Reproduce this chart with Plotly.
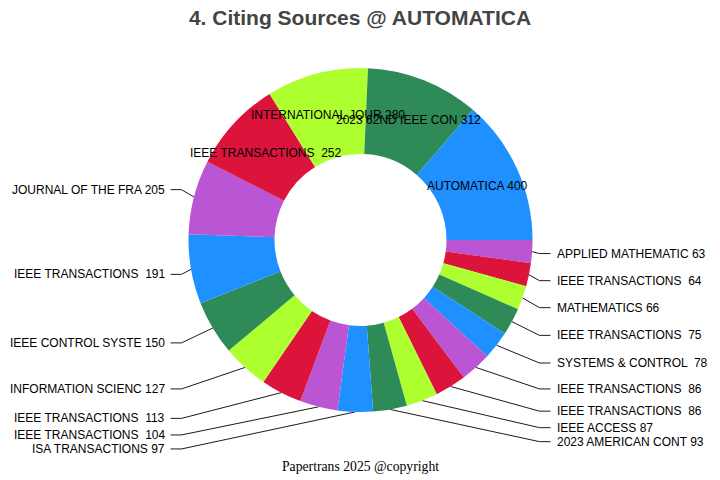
import math
import plotly.graph_objects as go

# sources in clockwise order starting at 3 o'clock (smallest first)
sources = ['APPLIED MATHEMATIC', 'IEEE TRANSACTIONS ', 'MATHEMATICS', 'IEEE TRANSACTIONS ',
           'SYSTEMS & CONTROL ', 'IEEE TRANSACTIONS ', 'IEEE TRANSACTIONS ', 'IEEE ACCESS',
           '2023 AMERICAN CONT', 'ISA TRANSACTIONS', 'IEEE TRANSACTIONS ', 'IEEE TRANSACTIONS ',
           'INFORMATION SCIENC', 'IEEE CONTROL SYSTE', 'IEEE TRANSACTIONS ', 'JOURNAL OF THE FRA',
           'IEEE TRANSACTIONS ', 'INTERNATIONAL JOUR', '2023 62ND IEEE CON', 'AUTOMATICA']
counts = [63, 64, 66, 75, 78, 86, 86, 87, 93, 97, 104, 113, 127, 150, 191, 205, 252, 280, 312, 400]

palette = ['#BA55D3', '#DC143C', '#ADFF2F', '#2E8B57', '#1E90FF']
colors = [palette[i % 5] for i in range(len(counts))]

texts = [f'{s} {c}' for s, c in zip(sources, counts)]
ids = [str(i) for i in range(len(counts))]
inside = [c > 250 for c in counts]

W, H = 720, 480
CX, CY, R = 360.5, 240, 172      # pie centre / radius in px
ROT = 90
HOLE = 0.5
FONT = dict(family='Arial, Liberation Sans', size=12, color='black')

fig = go.Figure(go.Pie(
    labels=ids, values=counts, text=texts, textinfo='none',
    sort=False, direction='clockwise', rotation=ROT,
    hole=HOLE,
    marker=dict(colors=colors),
    hoverinfo='text+value+percent',
    domain=dict(x=[(CX - 2 * R) / W, (CX + 2 * R) / W], y=[(H - CY - R) / H, (H - CY + R) / H]),
    showlegend=False,
))

# labels: inside ones at mid ring, outside ones with leader lines
total = sum(counts)
cum = 0
right, left = [], []
for name, v, f in zip(texts, counts, inside):
    th = math.radians(ROT + 360 * (cum + v / 2) / total)
    cum += v
    if f:
        rm = (1 + HOLE) / 2
        fig.add_annotation(x=rm * math.sin(th), y=rm * math.cos(th), xref='x', yref='y',
                           text=name, showarrow=False, font=FONT, borderpad=0)
        continue
    item = dict(text=name, ax=math.sin(th), ay=math.cos(th), y=math.cos(th) * 201 / R)
    (right if math.sin(th) > 0 else left).append(item)

gap = 14 / R
lx, ly = [], []
for side, sgn in ((right, 1), (left, -1)):
    side.sort(key=lambda d: -d['y'])
    for i in range(1, len(side)):
        if side[i]['y'] > side[i - 1]['y'] - gap:
            side[i]['y'] = side[i - 1]['y'] - gap
    for d in side:
        lx += [d['ax'], sgn * 179 / R, sgn * 190 / R, None]
        ly += [d['ay'], d['y'], d['y'], None]
        fig.add_annotation(x=sgn * 195 / R, y=d['y'], xref='x', yref='y', text=d['text'],
                           showarrow=False, xanchor='left' if sgn > 0 else 'right',
                           yanchor='middle', borderpad=0, font=FONT)

fig.add_trace(go.Scatter(x=lx, y=ly, mode='lines', line=dict(color='black', width=0.9),
                         hoverinfo='skip', showlegend=False))

fig.add_annotation(text='Papertrans 2025 @copyright', x=0.5, y=1 - 466 / H,
                   xref='paper', yref='paper', showarrow=False, yanchor='middle',
                   font=dict(family='Times New Roman, Liberation Serif', size=13.7, color='black'))

fig.update_layout(
    title=dict(text='<b>4. Citing Sources @ AUTOMATICA</b>', x=0.5, xanchor='center',
               yref='container', y=1 - 18 / H, yanchor='middle',
               font=dict(family='Arial, Liberation Sans', size=21, color='#444')),
    xaxis=dict(range=[-CX / R, (W - CX) / R], visible=False, fixedrange=True),
    yaxis=dict(range=[(CY - H) / R, CY / R], visible=False, fixedrange=True),
    width=W, height=H,
    margin=dict(t=0, b=0, l=0, r=0),
    paper_bgcolor='white', plot_bgcolor='white',
)

fig.write_html('out.html', config={'displayModeBar': False},
               post_script="document.body.style.margin='0';")
